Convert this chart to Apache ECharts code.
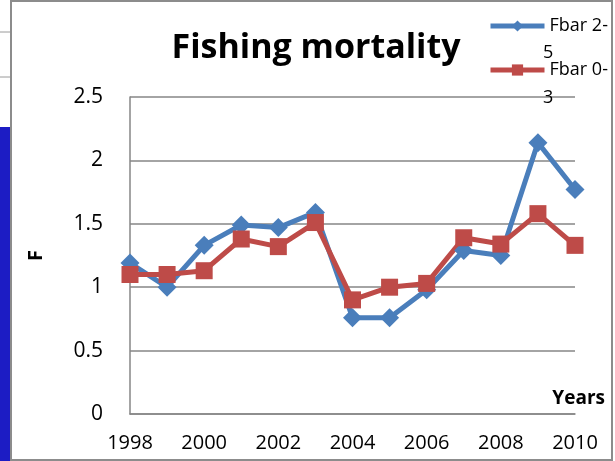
<!DOCTYPE html>
<html>
<head>
<meta charset="utf-8">
<script src="https://cdn.jsdelivr.net/npm/echarts@6/dist/echarts.min.js"></script>
<style>
  html, body { margin: 0; padding: 0; background: #fff; }
  #chart { width: 615px; height: 461px; }
</style>
</head>
<body>
<div id="chart"></div>
<script>
// data
const years = [1998, 1999, 2000, 2001, 2002, 2003, 2004, 2005, 2006, 2007, 2008, 2009, 2010]
const fbar25 = [1.19, 1.00, 1.33, 1.49, 1.47, 1.59, 0.76, 0.76, 0.98, 1.29, 1.25, 2.14, 1.77]
const fbar03 = [1.10, 1.10, 1.13, 1.38, 1.32, 1.51, 0.90, 1.00, 1.03, 1.39, 1.34, 1.58, 1.33]
const yTicks = [0, 0.5, 1, 1.5, 2, 2.5]

const font = '"Open Sans", sans-serif'
const blue = '#4a7ebb'
const red = '#be4b48'

const chart = echarts.init(document.getElementById('chart'))

const legendBase = {
  orient: 'vertical',
  left: 483,
  itemWidth: 54,
  itemHeight: 14,
  itemGap: 0,
  lineStyle: { width: 5 },
  textStyle: { fontFamily: font, fontSize: 18, color: '#000' }
}

const option = {
  animation: false,
  backgroundColor: '#fff',
  title: {
    text: 'Fishing mortality',
    left: 311,
    top: 26,
    textAlign: 'center',
    textStyle: { fontFamily: font, fontWeight: 'bold', fontSize: 34, color: '#000' }
  },
  legend: [
    Object.assign({}, legendBase, { top: 12, data: ['Fbar 2-5'], formatter: () => 'Fbar 2-' }),
    Object.assign({}, legendBase, { top: 56, data: ['Fbar 0-3'], formatter: () => 'Fbar 0-' })
  ],
  grid: { left: 130, right: 40, top: 97, bottom: 47 },
  xAxis: {
    type: 'value',
    min: years[0],
    max: years[years.length - 1],
    interval: 2,
    name: 'Years',
    nameLocation: 'end',
    nameGap: 0,
    nameTextStyle: {
      fontFamily: font, fontWeight: 'bold', fontSize: 19, color: '#000',
      align: 'right', verticalAlign: 'bottom', padding: [0, -30, 6, 0]
    },
    axisLine: { lineStyle: { color: '#868686', width: 1.5 } },
    axisTick: { show: false },
    splitLine: { show: false },
    axisLabel: { fontFamily: font, fontSize: 20, color: '#000', margin: 19, formatter: v => String(v) }
  },
  yAxis: {
    type: 'value',
    min: yTicks[0],
    max: yTicks[yTicks.length - 1],
    interval: 0.5,
    name: 'F',
    nameLocation: 'middle',
    nameGap: 84,
    nameTextStyle: { fontFamily: font, fontWeight: 'bold', fontSize: 20, color: '#000' },
    axisLine: { show: true, lineStyle: { color: '#868686', width: 1.5 } },
    axisTick: { show: false },
    splitLine: { lineStyle: { color: '#868686', width: 1.5 } },
    axisLabel: { fontFamily: font, fontSize: 21, color: '#000', margin: 27 }
  },
  series: [
    {
      name: 'Fbar 2-5',
      type: 'line',
      data: years.map((y, i) => [y, fbar25[i]]),
      color: blue,
      lineStyle: { width: 5 },
      symbol: 'diamond',
      symbolSize: 19,
      itemStyle: { color: blue }
    },
    {
      name: 'Fbar 0-3',
      type: 'line',
      data: years.map((y, i) => [y, fbar03[i]]),
      color: red,
      lineStyle: { width: 5 },
      symbol: 'rect',
      symbolSize: 17,
      itemStyle: { color: red },
      z: 3
    }
  ],
  graphic: [
    // second lines of the wrapped legend labels
    { type: 'text', left: 543, top: 44, style: { text: '5', fontFamily: font, fontSize: 18, fill: '#000' }, z: 10 },
    { type: 'text', left: 543, top: 89, style: { text: '3', fontFamily: font, fontSize: 18, fill: '#000' }, z: 1 },
    // frame and leftover bits of the surrounding sheet
    { type: 'rect', shape: { x: 11, y: 1, width: 601, height: 459 }, style: { fill: 'none', stroke: '#8c8c8c', lineWidth: 2 }, silent: true },
    { type: 'line', shape: { x1: 0, y1: 32, x2: 10, y2: 32 }, style: { stroke: '#9a9a9a', lineWidth: 1 } },
    { type: 'line', shape: { x1: 0, y1: 77, x2: 10, y2: 77 }, style: { stroke: '#9a9a9a', lineWidth: 1 } },
    { type: 'rect', shape: { x: 0, y: 127, width: 10, height: 334 }, style: { fill: '#1c1cc4' } }
  ]
}

chart.setOption(option)
</script>
</body>
</html>
